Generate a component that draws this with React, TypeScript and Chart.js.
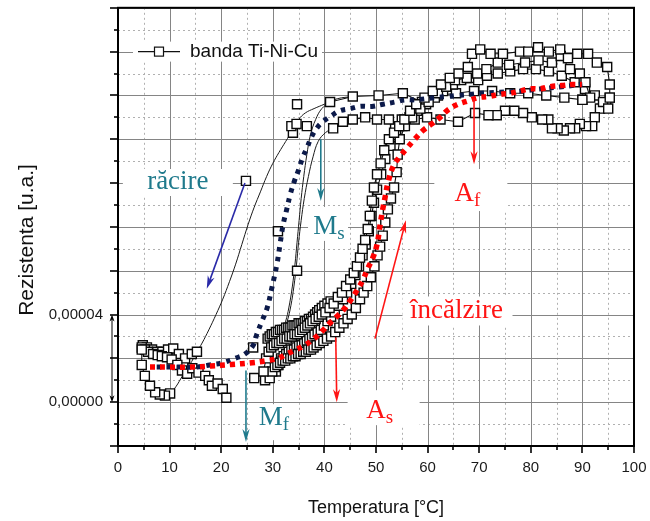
import React, { useEffect, useRef } from "react";
import { Chart, registerables } from "chart.js";

Chart.register(...registerables);

// Resistance values below are written in units of 1e-5 u.a.
const Y_UNIT = 1e-5;

// Axis ticks
const X_MAJOR = [0, 10, 20, 30, 40, 50, 60, 70, 80, 90, 100];
const X_MINOR = [5, 15, 25, 35, 45, 55, 65, 75, 85, 95];
const Y_MAJOR = [-2, 0, 2, 4, 6, 8, 10, 12, 14, 16, 18];
const Y_MINOR = [-1, 1, 3, 5, 7, 9, 11, 13, 15, 17];
const Y_LABELLED = [0, 4];

// Fitted transformation curves
const FIT_HEATING: number[][] = [
  [6.2, 1.6], [10, 1.6], [14, 1.6], [18, 1.65], [22, 1.72], [26, 1.8], [29, 1.9], [31, 2.0],
  [32.7, 2.2], [34.5, 2.4], [36.2, 2.6], [38, 2.9], [39.6, 3.25], [41, 3.6], [42.6, 3.95],
  [44, 4.3], [45.2, 4.7], [46.3, 5.1], [47.5, 5.6], [48.4, 6.1], [49.4, 6.6], [50.2, 7.2],
  [50.8, 8.1], [51.3, 8.8], [51.8, 9.4], [52.3, 10.0], [53.4, 10.8], [54.6, 11.2], [56, 11.6],
  [57.5, 12.0], [59.1, 12.4], [60.8, 12.7], [62.4, 13.0], [64, 13.35], [65.9, 13.6],
  [67.8, 13.75], [69.8, 13.9], [71.7, 13.95], [74, 14.05], [76, 14.1], [77.9, 14.2],
  [79.8, 14.3], [81.8, 14.3], [83.7, 14.4], [86, 14.45], [88, 14.5], [89.9, 14.5],
];
const FIT_COOLING: number[][] = [
  [7.5, 1.6], [10.1, 1.6], [12.6, 1.6], [15.3, 1.6], [17.8, 1.7], [20.3, 1.8], [22.7, 2.0],
  [24.6, 2.2], [26.2, 2.6], [26.9, 3.1], [27.9, 3.7], [28.9, 4.3], [29.8, 5.2], [30.8, 6.3],
  [31.4, 7.2], [32.0, 8.1], [32.7, 8.8], [33.4, 9.5], [34.2, 10.1], [35.0, 10.6], [35.7, 11.1],
  [36.6, 11.6], [37.5, 12.1], [38.5, 12.5], [39.7, 12.8], [41.5, 13.1], [43, 13.3], [45, 13.4],
  [46.9, 13.5], [49.2, 13.5], [51.4, 13.6], [53.7, 13.7], [55.6, 13.8], [57.5, 13.8],
  [61.4, 13.9], [63.8, 13.95], [65.7, 14.0], [68.2, 14.05], [70.2, 14.1], [74, 14.15],
  [78, 14.2], [82, 14.3], [86, 14.4], [90, 14.5],
];

// Measured runs, banda Ti-Ni-Cu
const HEAT_1: number[][] = [
  [28.2, 1.4], [28.7, 2.0], [29.2, 2.3], [29.7, 2.5], [30.2, 2.6], [30.7, 2.7], [31.2, 2.7],
  [31.7, 2.8], [32.2, 2.9], [32.7, 2.9], [33.2, 3.0], [33.7, 3.0], [34.2, 3.1], [34.7, 3.1],
  [35.2, 3.2], [35.7, 3.3], [36.2, 3.4], [36.7, 3.5], [37.2, 3.6], [37.7, 3.7], [38.3, 3.8],
  [38.9, 3.9], [39.5, 4.0], [40.2, 4.1], [41.0, 4.3], [41.8, 4.5], [42.6, 4.8], [43.4, 5.0],
  [44.2, 5.3], [45.0, 5.6], [45.7, 5.9], [46.3, 6.2], [46.9, 6.6], [47.4, 7.0], [47.9, 7.4],
  [48.4, 7.9], [48.8, 8.5], [49.2, 9.2], [49.6, 9.8], [50.2, 10.4], [50.9, 10.9], [51.6, 11.5],
  [52.5, 12.0], [53.5, 12.3], [54.5, 12.6], [55.5, 12.9], [56.6, 13.3], [57.8, 13.6],
  [59.4, 13.9], [61.0, 14.2], [62.6, 14.5], [64.3, 14.8], [66.0, 15.0], [67.8, 15.3],
  [68.6, 15.9], [70.2, 16.1], [72.2, 15.9], [74.6, 15.9], [77.9, 16.0], [79.5, 16.0],
  [81.4, 16.2], [83.5, 16.0], [85.7, 16.1], [87.2, 15.7], [89.0, 15.9], [91.1, 15.9],
  [92.8, 15.5], [94.8, 15.3], [95.3, 14.5], [95.3, 13.9],
];
const HEAT_2: number[][] = [
  [29.4, 1.1], [29.9, 1.4], [30.4, 1.6], [30.9, 1.7], [31.4, 1.8], [31.9, 1.9], [32.4, 1.9],
  [32.9, 2.0], [33.4, 2.0], [33.9, 2.1], [34.4, 2.1], [34.9, 2.2], [35.4, 2.2], [35.9, 2.3],
  [36.4, 2.3], [36.9, 2.4], [37.4, 2.4], [37.9, 2.5], [38.5, 2.6], [39.1, 2.7], [39.8, 2.8],
  [40.5, 2.9], [41.3, 3.0], [42.1, 3.2], [42.9, 3.4], [43.7, 3.6], [44.5, 3.8], [45.3, 4.0],
  [46.1, 4.3], [46.9, 4.7], [47.6, 5.0], [48.3, 5.3], [49.0, 5.7], [49.7, 6.2], [50.3, 6.7],
  [50.8, 7.1], [51.3, 7.6], [51.8, 8.2], [52.3, 8.8], [52.9, 9.3], [53.5, 9.8], [54.0, 10.5],
  [54.2, 11.3], [54.6, 12.0], [55.6, 12.6], [57.0, 13.0], [58.6, 13.4], [60.2, 13.7],
  [62.0, 14.1], [63.6, 14.4], [65.3, 14.7], [67.6, 14.8], [69.6, 15.0], [71.4, 15.2],
  [73.6, 15.5], [75.8, 15.4], [78.9, 15.5], [81.5, 15.6], [84.1, 15.5], [85.8, 15.8],
  [87.6, 15.2], [89.5, 15.0], [90.6, 14.6], [91.5, 13.9], [90.0, 13.8],
];
const HEAT_3: number[][] = [
  [30.6, 1.4], [31.1, 1.7], [31.6, 2.0], [32.1, 2.1], [32.6, 2.2], [33.1, 2.3], [33.6, 2.4],
  [34.1, 2.4], [34.6, 2.5], [35.1, 2.6], [35.6, 2.6], [36.1, 2.7], [36.6, 2.8], [37.1, 2.9],
  [37.6, 3.0], [38.1, 3.1], [38.7, 3.2], [39.3, 3.3], [39.9, 3.5], [40.6, 3.7], [41.3, 3.9],
  [42.0, 4.1], [42.8, 4.4], [43.6, 4.7], [44.4, 5.0], [45.2, 5.4], [46.0, 5.8], [46.7, 6.2],
  [47.4, 6.7], [48.0, 7.2], [48.6, 7.8], [49.1, 8.5], [49.6, 9.1], [50.2, 9.7], [51.0, 10.4],
  [51.8, 11.1], [52.8, 11.7], [53.9, 12.2], [55.1, 12.6], [56.5, 13.0], [58.0, 13.3],
  [59.7, 13.6], [61.4, 13.9], [63.0, 14.2], [64.9, 14.5], [66.5, 14.7], [68.2, 14.8],
  [69.8, 14.7], [71.5, 14.9], [73.6, 15.0], [76.0, 15.1], [78.5, 15.2], [81.0, 15.2],
  [83.5, 15.1], [86.0, 14.9], [88.5, 14.6], [90.5, 14.3], [92.4, 14.0], [94.0, 13.7], [95.0, 13.4],
];
const HEAT_4: number[][] = [
  [29.0, 2.9], [29.4, 3.0], [29.8, 3.1], [30.2, 3.1], [30.6, 3.2], [31.0, 3.2], [31.4, 3.3],
  [31.8, 3.3], [32.2, 3.3], [32.6, 3.4], [33.0, 3.4], [33.4, 3.4], [33.8, 3.5], [34.2, 3.5],
  [34.6, 3.5], [35.0, 3.6], [35.4, 3.6], [35.8, 3.6], [36.2, 3.7], [36.6, 3.7], [37.0, 3.8],
  [37.4, 3.8], [37.8, 3.9], [38.2, 4.0], [38.6, 4.1], [39.0, 4.2], [39.5, 4.3], [40.0, 4.4],
  [40.6, 4.5], [41.2, 4.6],
];
const COOL_1: number[][] = [
  [95.3, 13.9], [94.6, 13.6], [93.4, 13.4], [92.4, 13.0], [91.9, 12.6], [90.7, 12.6],
  [89.5, 12.7], [88.6, 12.5], [87.6, 12.5], [86.4, 12.4], [85.2, 12.5], [84.1, 12.5],
  [83.4, 12.9], [82.2, 12.9], [80.2, 13.0], [78.5, 13.2], [76.8, 13.3], [75.0, 13.3],
  [73.4, 13.1], [71.8, 13.1], [69.2, 13.2], [65.9, 12.8], [62.5, 12.9], [59.9, 13.0],
  [57.5, 12.9], [55.0, 12.9], [53.7, 12.5], [52.5, 12.9], [50.2, 12.9], [47.9, 13.0],
  [45.5, 12.9], [43.6, 12.8], [41.7, 12.5],
];
const COOL_1_DROP: number[][] = [
  [41.7, 12.5], [40.2, 12.3], [38.8, 11.9], [37.8, 11.2], [36.9, 10.3], [36.1, 9.3],
  [35.5, 8.3], [35.0, 7.3], [34.6, 6.3], [34.1, 5.3], [33.5, 4.4], [32.8, 3.7], [32.1, 3.3],
  [31.4, 3.0],
];
const COOL_2: number[][] = [
  [90.0, 13.8], [86.5, 13.9], [83.0, 14.0], [79.5, 14.1], [76.0, 14.1], [72.5, 14.2],
  [69.0, 14.2], [65.5, 14.1], [62.0, 14.0], [58.9, 13.7], [55.2, 14.1], [50.5, 14.0],
  [45.5, 13.95], [41.1, 13.7],
];
const COOL_2_DROP: number[][] = [
  [41.1, 13.7], [39.5, 13.4], [38.3, 12.9], [37.3, 12.2], [36.6, 11.3], [36.0, 10.3],
  [35.5, 9.3], [35.1, 8.3], [34.7, 7.3], [34.3, 6.3], [33.8, 5.3], [33.1, 4.3], [32.5, 3.7],
  [32.0, 3.4],
];
const COOL_OUTER: number[][] = [
  [45.5, 13.95], [42.5, 13.85], [40.0, 13.6], [38.0, 13.4], [36.3, 13.2], [35.0, 12.9],
  [33.8, 12.4], [32.5, 11.9], [31.2, 11.4], [30.0, 10.9], [28.8, 10.3], [27.6, 9.6],
  [26.4, 8.9], [25.2, 8.1], [24.0, 7.2], [22.8, 6.3], [21.6, 5.5], [20.3, 4.7], [19.0, 4.0],
  [17.6, 3.3], [16.3, 2.7], [15.3, 2.3], [13.9, 1.7], [12.5, 1.2], [11.2, 0.7], [10.1, 0.4],
];
const LOW_U: number[][] = [
  [10.1, 0.4], [9.1, 0.3], [8.1, 0.35], [7.2, 0.45], [6.2, 0.75], [5.2, 1.2], [4.6, 1.7], [4.6, 2.4],
];
const LOW_H1: number[][] = [
  [4.6, 2.5], [5.2, 2.4], [5.8, 2.3], [6.8, 2.2], [7.7, 2.15], [8.5, 2.1], [9.5, 2.05],
  [10.4, 1.95], [11.5, 1.7], [12.4, 1.45], [13.4, 1.3], [14.4, 1.55], [15.6, 1.35], [16.9, 1.2],
  [17.6, 1.0], [18.2, 0.75], [19.3, 0.85], [20.3, 0.6], [21.0, 0.2],
];
const LOW_H2: number[][] = [
  [4.8, 2.6], [5.6, 2.5], [6.6, 2.4], [7.6, 2.3], [8.6, 2.3], [9.7, 2.4], [10.7, 2.45],
  [11.8, 2.2], [13.0, 2.0], [14.3, 2.2], [15.3, 2.3],
];
const LONE: number[][] = [
  [24.8, 10.1], [34.7, 13.6], [33.9, 12.3], [33.6, 12.6], [34.6, 12.7], [36.6, 12.6],
  [34.7, 6.0], [31.0, 7.8], [26.2, 2.5], [26.4, 1.1], [28.5, 1.0],
];

const TEAL = "#1f7a8c";
const RED = "#ff1414";
const BLUE = "#2a2aa8";

type Note = { text: string; sub?: string; x: number; y: number; color: string; box: number[] };
const NOTES: Note[] = [
  { text: "răcire", x: 11.6, y: 9.73, color: TEAL, box: [-55, 55, -20, 7] },
  { text: "M", sub: "s", x: 40.9, y: 7.68, color: TEAL, box: [-21, 19, -27, 7] },
  { text: "M", sub: "f", x: 30.2, y: -1.05, color: TEAL, box: [-24, 24, -21, 15] },
  { text: "A", sub: "s", x: 50.7, y: -0.73, color: RED, box: [-32, 40, -28, 7] },
  { text: "A", sub: "f", x: 67.7, y: 9.18, color: RED, box: [-33, 40, -32, 10] },
  { text: "încălzire", x: 65.6, y: 3.82, color: RED, box: [-54, 56, -22, 7] },
];
const ARROWS = [
  { from: [24.6, 10.0], to: [17.2, 5.18], color: BLUE },
  { from: [39.3, 12.0], to: [39.3, 9.18], color: TEAL },
  { from: [24.8, 1.45], to: [24.8, -1.82], color: TEAL },
  { from: [42.2, 2.95], to: [42.4, 0], color: RED },
  { from: [69.0, 13.86], to: [69.0, 10.86], color: RED },
  { from: [49.8, 2.9], to: [55.8, 8.3], color: RED },
];

const SANS = '"Liberation Sans", Arial, sans-serif';
const SERIF = '"Liberation Serif", "Times New Roman", serif';

const pts = (run: number[][]) => run.map(([x, y]) => ({ x, y: y * Y_UNIT }));

function arrowHead(ctx: CanvasRenderingContext2D, x1: number, y1: number, x2: number, y2: number, len: number, half: number) {
  const a = Math.atan2(y2 - y1, x2 - x1);
  const c = Math.cos(a);
  const s = Math.sin(a);
  const bx = x2 - len * c;
  const by = y2 - len * s;
  const nx = x2 - len * 0.7 * c;
  const ny = y2 - len * 0.7 * s;
  ctx.beginPath();
  ctx.moveTo(x2, y2);
  ctx.lineTo(bx - half * s, by + half * c);
  ctx.lineTo(nx, ny);
  ctx.lineTo(bx + half * s, by - half * c);
  ctx.closePath();
  ctx.fill();
  return [nx, ny];
}

function drawArrow(ctx: CanvasRenderingContext2D, x1: number, y1: number, x2: number, y2: number, color: string) {
  ctx.strokeStyle = color;
  ctx.fillStyle = color;
  ctx.lineWidth = 1.6;
  const [nx, ny] = arrowHead(ctx, x1, y1, x2, y2, 13, 3.6);
  ctx.beginPath();
  ctx.moveTo(x1, y1);
  ctx.lineTo(nx, ny);
  ctx.stroke();
}

const decor = {
  id: "decor",
  beforeDatasetsDraw(chart: any) {
    const { ctx, chartArea: a, scales } = chart;
    const px = (v: number) => scales.x.getPixelForValue(v);
    const py = (v: number) => scales.y.getPixelForValue(v * Y_UNIT);
    ctx.save();
    ctx.lineWidth = 1;
    ctx.strokeStyle = "#b0b0b0";
    ctx.setLineDash([2, 3]);
    for (const v of X_MINOR) {
      const x = Math.round(px(v)) + 0.5;
      ctx.beginPath(); ctx.moveTo(x, a.top); ctx.lineTo(x, a.bottom); ctx.stroke();
    }
    for (const v of Y_MINOR) {
      const y = Math.round(py(v)) + 0.5;
      ctx.beginPath(); ctx.moveTo(a.left, y); ctx.lineTo(a.right, y); ctx.stroke();
    }
    ctx.setLineDash([]);
    ctx.strokeStyle = "#858585";
    for (const v of X_MAJOR) {
      const x = Math.round(px(v)) + 0.5;
      ctx.beginPath(); ctx.moveTo(x, a.top); ctx.lineTo(x, a.bottom); ctx.stroke();
    }
    for (const v of Y_MAJOR) {
      const y = Math.round(py(v)) + 0.5;
      ctx.beginPath(); ctx.moveTo(a.left, y); ctx.lineTo(a.right, y); ctx.stroke();
    }
    // white backing behind the notes and the legend
    ctx.fillStyle = "#ffffff";
    for (const n of NOTES) {
      const cx = px(n.x);
      const by = py(n.y);
      ctx.fillRect(cx + n.box[0], by + n.box[2], n.box[1] - n.box[0], n.box[3] - n.box[2]);
    }
    ctx.fillRect(a.left + 15, py(16) - 10, 189, 20);
    ctx.restore();
  },
  afterDatasetsDraw(chart: any) {
    const { ctx, chartArea: a, scales } = chart;
    const px = (v: number) => scales.x.getPixelForValue(v);
    const py = (v: number) => scales.y.getPixelForValue(v * Y_UNIT);
    ctx.save();

    // frame
    ctx.strokeStyle = "#000";
    ctx.lineWidth = 2;
    ctx.strokeRect(a.left, a.top, a.right - a.left, a.bottom - a.top);

    // tick marks
    ctx.lineWidth = 1.6;
    for (const v of X_MAJOR) {
      const x = Math.round(px(v));
      ctx.beginPath(); ctx.moveTo(x, a.bottom); ctx.lineTo(x, a.bottom + 7); ctx.stroke();
    }
    for (const v of X_MINOR) {
      const x = Math.round(px(v));
      ctx.beginPath(); ctx.moveTo(x, a.bottom); ctx.lineTo(x, a.bottom + 4); ctx.stroke();
    }
    for (const v of Y_MAJOR) {
      const y = Math.round(py(v));
      ctx.beginPath(); ctx.moveTo(a.left - 8, y); ctx.lineTo(a.left, y); ctx.stroke();
    }
    for (const v of Y_MINOR) {
      const y = Math.round(py(v));
      ctx.beginPath(); ctx.moveTo(a.left - 4, y); ctx.lineTo(a.left, y); ctx.stroke();
    }

    // tick labels
    ctx.fillStyle = "#1a1a1a";
    ctx.font = `15px ${SANS}`;
    ctx.textAlign = "center";
    ctx.textBaseline = "middle";
    for (const v of X_MAJOR) ctx.fillText(String(v), px(v), a.bottom + 22);
    ctx.textAlign = "right";
    for (const v of Y_LABELLED) {
      ctx.fillText((v * Y_UNIT).toFixed(5).replace(".", ","), a.left - 15, py(v));
    }

    // scale bar between the labelled values
    ctx.fillStyle = "#000";
    ctx.strokeStyle = "#000";
    ctx.lineWidth = 1;
    const bx = a.left - 6;
    const y0 = py(Y_LABELLED[0]);
    const y1 = py(Y_LABELLED[1]);
    const [, t1] = arrowHead(ctx, bx, y0, bx, y1, 7, 2.5);
    const [, t0] = arrowHead(ctx, bx, y1, bx, y0, 7, 2.5);
    ctx.beginPath(); ctx.moveTo(bx, t1); ctx.lineTo(bx, t0); ctx.stroke();

    // axis titles
    ctx.fillStyle = "#111";
    ctx.textBaseline = "alphabetic";
    ctx.textAlign = "center";
    ctx.font = `18px ${SANS}`;
    ctx.fillText("Temperatura [°C]", (a.left + a.right) / 2, 513);
    ctx.save();
    ctx.translate(33, 240);
    ctx.rotate(-Math.PI / 2);
    ctx.font = `21px ${SANS}`;
    ctx.fillText("Rezistenta [u.a.]", 0, 0);
    ctx.restore();

    // legend
    const ly = py(16);
    ctx.strokeStyle = "#111";
    ctx.lineWidth = 1.2;
    ctx.beginPath(); ctx.moveTo(a.left + 20, ly); ctx.lineTo(a.left + 62, ly); ctx.stroke();
    ctx.fillStyle = "#fff";
    ctx.fillRect(a.left + 36.5, ly - 4.5, 9, 9);
    ctx.strokeRect(a.left + 36.5, ly - 4.5, 9, 9);
    ctx.fillStyle = "#111";
    ctx.textAlign = "left";
    ctx.textBaseline = "middle";
    ctx.font = `19px ${SANS}`;
    ctx.fillText("banda Ti-Ni-Cu", a.left + 72, ly);

    // notes
    ctx.textBaseline = "alphabetic";
    for (const n of NOTES) {
      ctx.fillStyle = n.color;
      ctx.font = `27px ${SERIF}`;
      const mainW = ctx.measureText(n.text).width;
      let subW = 0;
      if (n.sub) {
        ctx.font = `19px ${SERIF}`;
        subW = ctx.measureText(n.sub).width;
      }
      const left = px(n.x) - (mainW + subW) / 2;
      const base = py(n.y);
      ctx.textAlign = "left";
      ctx.font = `27px ${SERIF}`;
      ctx.fillText(n.text, left, base);
      if (n.sub) {
        ctx.font = `19px ${SERIF}`;
        ctx.fillText(n.sub, left + mainW, base + 5);
      }
    }
    for (const ar of ARROWS) {
      drawArrow(ctx, px(ar.from[0]), py(ar.from[1]), px(ar.to[0]), py(ar.to[1]), ar.color);
    }
    ctx.restore();
  },
};

const markerRun = (run: number[][]) => ({
  data: pts(run),
  borderColor: "#111111",
  borderWidth: 1.1,
  pointStyle: "rect",
  pointRadius: 6.4,
  pointBackgroundColor: "#ffffff",
  pointBorderColor: "#0a0a0a",
  pointBorderWidth: 1.4,
  tension: 0,
  order: 1,
});

const lineRun = (run: number[][]) => ({
  data: pts(run),
  borderColor: "#1a1a1a",
  borderWidth: 1,
  pointRadius: 0,
  tension: 0.4,
  order: 2,
});

export default function App() {
  const canvasRef = useRef<HTMLCanvasElement | null>(null);

  useEffect(() => {
    const canvas = canvasRef.current;
    if (!canvas) return;
    const chart = new Chart(canvas, {
      type: "line",
      data: {
        datasets: [
          {
            label: "heating fit",
            data: pts(FIT_HEATING),
            borderColor: "#ff0000",
            borderWidth: 5.5,
            borderDash: [5, 5],
            borderCapStyle: "butt",
            pointRadius: 0,
            tension: 0.4,
            order: 0,
          },
          {
            label: "cooling fit",
            data: pts(FIT_COOLING),
            borderColor: "#0c1a4a",
            borderWidth: 5,
            borderDash: [4.5, 5.5],
            borderCapStyle: "butt",
            pointRadius: 0,
            tension: 0.4,
            order: 0,
          },
          { label: "banda Ti-Ni-Cu", ...markerRun(HEAT_1) },
          markerRun(HEAT_2),
          markerRun(HEAT_3),
          markerRun(HEAT_4),
          markerRun(COOL_1),
          markerRun(COOL_2),
          markerRun(LOW_U),
          markerRun(LOW_H1),
          markerRun(LOW_H2),
          { ...markerRun(LONE), showLine: false },
          lineRun(COOL_1_DROP),
          lineRun(COOL_2_DROP),
          lineRun(COOL_OUTER),
        ] as any,
      },
      options: {
        animation: false,
        responsive: true,
        maintainAspectRatio: false,
        events: [],
        layout: { padding: { top: 7, right: 16, left: 0, bottom: 0 } },
        plugins: { legend: { display: false }, tooltip: { enabled: false } },
        scales: {
          x: {
            type: "linear",
            min: 0,
            max: 100,
            grid: { display: false },
            border: { display: false },
            ticks: { display: false },
            afterFit: (s: any) => { s.height = 75; },
          },
          y: {
            type: "linear",
            min: -2 * Y_UNIT,
            max: 18 * Y_UNIT,
            grid: { display: false },
            border: { display: false },
            ticks: { display: false },
            afterFit: (s: any) => { s.width = 118; },
          },
        },
      } as any,
      plugins: [decor],
    });
    return () => chart.destroy();
  }, []);

  return (
    <div style={{ position: "absolute", left: 0, top: 0, width: 650, height: 521, background: "#fff" }}>
      <canvas ref={canvasRef} />
    </div>
  );
}
